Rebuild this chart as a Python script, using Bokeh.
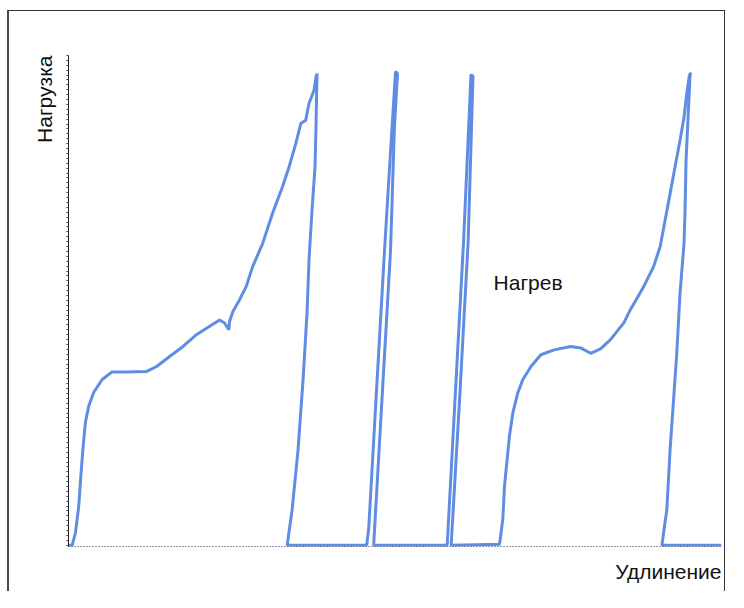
import math
from bokeh.plotting import figure
from bokeh.models import Range1d, Label, Title, SingleIntervalTicker, CustomJSTickFormatter
from bokeh.embed import file_html
from bokeh.resources import INLINE

# ---- data (elongation, load), relative units 0..100 ----
# cycle 1: loading
c1_load_x = [0.56, 1.07, 1.57, 1.93, 2.24, 2.59, 3.09, 3.85, 5.13, 6.65, 8.93, 11.98, 13.50,
             15.53, 17.55, 19.59, 21.61, 23.14, 23.90, 24.55, 24.66, 25.16, 26.18, 27.20,
             28.20, 29.73, 31.25, 32.77, 33.79, 34.81, 35.57, 36.33, 36.83, 37.60, 37.95, 38.10]
c1_load_y = [0.0, 2.6, 8.0, 14.9, 20.2, 25.1, 28.4, 31.2, 33.8, 35.4, 35.4, 35.5, 36.5,
             38.6, 40.6, 43.0, 44.7, 46.0, 45.4, 44.0, 45.7, 47.7, 50.1, 52.8,
             56.9, 61.6, 67.8, 73.2, 77.3, 82.0, 86.1, 86.8, 90.2, 92.9, 95.9, 96.3]
# cycle 1: unloading
c1_unload_x = [38.05, 37.90, 37.75, 37.29, 36.83, 36.53, 35.92, 35.16, 34.25, 33.49]
c1_unload_y = [95.9, 85.3, 77.2, 68.4, 58.2, 47.5, 33.8, 19.6, 7.3, 0.0]

# cycle 2
c2_load_x = [45.66, 45.97, 47.10, 48.40, 49.30, 50.08]
c2_load_y = [0.0, 3.3, 30.0, 60.3, 80.0, 96.7]
c2_unload_x = [50.38, 49.90, 49.32, 48.10, 46.73]
c2_unload_y = [96.3, 85.0, 60.3, 32.0, 0.0]

# cycle 3 ("Нагрев")
c3_load_x = [57.99, 59.20, 60.50, 61.64]
c3_load_y = [0.0, 30.0, 62.0, 96.1]
c3_unload_x = [61.95, 61.20, 59.90, 58.60]
c3_unload_y = [95.7, 62.0, 30.0, 0.0]

# cycle 4: loading
c4_load_x = [66.01, 66.51, 66.77, 67.02, 67.53, 68.04, 68.80, 69.56, 70.82, 72.34, 74.38,
             76.91, 78.43, 79.95, 81.48, 83.00, 85.04, 86.04, 88.08, 89.60, 90.61, 91.37,
             92.13, 92.89, 93.65, 94.26, 94.67, 95.08, 95.28]
c4_load_y = [0.2, 5.3, 12.1, 15.5, 22.3, 27.0, 31.1, 33.8, 36.5, 38.9, 39.9,
             40.6, 40.3, 39.2, 40.1, 42.0, 45.4, 48.1, 52.8, 56.9, 61.0, 66.4,
             71.8, 77.3, 82.7, 87.4, 92.2, 95.9, 96.5]
# cycle 4: unloading
c4_unload_x = [95.18, 94.93, 94.57, 94.42, 94.26, 93.65, 93.15, 92.13, 91.63, 90.87]
c4_unload_y = [95.9, 88.8, 78.6, 68.4, 61.6, 51.5, 39.2, 19.6, 7.3, 0.0]

elong_start, elong_end = 0.0, 100.0

# ---- build the continuous record (load stays at zero between cycles) ----
xs = [elong_start] + c1_load_x + c1_unload_x + c2_load_x + c2_unload_x \
     + c3_load_x + c3_unload_x + c4_load_x + c4_unload_x + [elong_end]
ys = [0.0] + c1_load_y + c1_unload_y + c2_load_y + c2_unload_y \
     + c3_load_y + c3_unload_y + c4_load_y + c4_unload_y + [0.0]

FONT = "Liberation Sans"
BLUE = "#5f8de3"
FS = "21px"

p = figure(width=718, height=581, output_backend="svg", toolbar_location=None,
           x_range=Range1d(0, 100), y_range=Range1d(-0.25, 100),
           min_border_left=59, min_border_right=6, min_border_top=44, min_border_bottom=46)
p.styles = {"margin-left": "7px", "margin-top": "10px",
            "border-left": "2px solid #4a4a4a", "border-top": "1px solid #333333",
            "border-right": "1px solid #333333"}
p.outline_line_color = None
p.xgrid.visible = False
p.ygrid.visible = False
p.background_fill_color = "white"
p.border_fill_color = "white"

empty = CustomJSTickFormatter(code="return ''")

xa = p.xaxis[0]
xa.formatter = empty
xa.major_tick_line_color = None
xa.minor_tick_line_color = None
xa.axis_line_color = "#1f2b4d"
xa.axis_line_dash = "1 2"
xa.axis_line_width = 1

ya = p.yaxis[0]
ya.ticker = SingleIntervalTicker(interval=1, num_minor_ticks=0)
ya.formatter = empty
ya.major_tick_in = 0
ya.major_tick_out = 2
ya.major_tick_line_color = "#2c3e80"
ya.minor_tick_line_color = None
ya.axis_line_color = "#222222"

p.line(xs, ys, line_color=BLUE, line_width=3)

p.add_layout(Label(x=65.1, y=53.6, text="Нагрев", text_font=FONT, text_font_size=FS,
                   text_color="#111111", text_align="left", text_baseline="alphabetic"))
p.add_layout(Title(text="Удлинение", align="right", text_font=FONT, text_font_size=FS,
                   text_font_style="normal", text_color="#111111"), "below")
p.add_layout(Title(text="Нагрузка", align="right", text_font=FONT, text_font_size=FS,
                   text_font_style="normal", text_color="#111111", standoff=21), "left")

open("out.html", "w").write(file_html(p, INLINE))
